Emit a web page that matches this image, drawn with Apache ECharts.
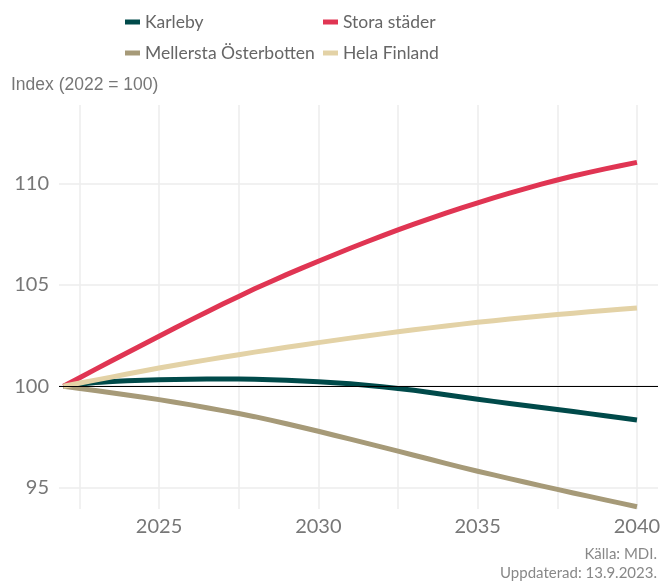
<!DOCTYPE html>
<html>
<head>
<meta charset="utf-8">
<script src="https://cdn.jsdelivr.net/npm/echarts@6/dist/echarts.min.js"></script>
<style>
  html, body { margin: 0; padding: 0; background: #fff; }
  #chart { width: 672px; height: 583px; }
</style>
</head>
<body>
<div id="chart"></div>
<script>
/*data*/
var years = [2022, 2023, 2024, 2025, 2026, 2027, 2028, 2029, 2030, 2031,
             2032, 2033, 2034, 2035, 2036, 2037, 2038, 2039, 2040];
var karleby = [100, 100.18, 100.27, 100.32, 100.35, 100.36, 100.34, 100.3, 100.22, 100.12,
               99.98, 99.8, 99.58, 99.36, 99.15, 98.95, 98.75, 98.55, 98.34];
var storaStader = [100, 100.83, 101.65, 102.46, 103.27, 104.05, 104.8, 105.5, 106.16, 106.8,
                   107.41, 107.99, 108.53, 109.04, 109.52, 109.96, 110.36, 110.71, 111.03];
var mellerstaOsterbotten = [100, 99.79, 99.57, 99.34, 99.08, 98.8, 98.5, 98.15, 97.78, 97.39,
                            97.0, 96.6, 96.2, 95.81, 95.45, 95.09, 94.74, 94.4, 94.06];
var helaFinland = [100, 100.3, 100.6, 100.9, 101.17, 101.43, 101.68, 101.92, 102.15, 102.37,
                   102.58, 102.78, 102.97, 103.15, 103.31, 103.46, 103.6, 103.73, 103.86];
var xTickLabels = [2025, 2030, 2035, 2040];
var xGridValues = [2022.5, 2025, 2027.5, 2030, 2032.5, 2035, 2037.5, 2040];
var yTickLabels = [95, 100, 105, 110];

function pairs(values) {
    return years.map(function (y, i) { return [y, values[i]]; });
}

var myChart = echarts.init(document.getElementById('chart'));

function lineSeries(name, values, color) {
    return {
        name: name,
        type: 'line',
        data: pairs(values),
        showSymbol: false,
        smooth: 0.2,
        lineStyle: { color: color, width: 5, cap: 'butt', join: 'round' },
        itemStyle: { color: color },
        emphasis: { disabled: true }
    };
}

var legendText = { color: '#666', fontSize: 17.5, fontFamily: 'Lato' };

var option = {
    backgroundColor: '#fff',
    animation: false,
    legend: [{
        data: ['Karleby', 'Mellersta Österbotten'],
        orient: 'vertical',
        left: 120,
        top: 8,
        itemWidth: 15,
        itemHeight: 5,
        itemGap: 13,
        icon: 'rect',
        textStyle: legendText
    }, {
        data: ['Stora städer', 'Hela Finland'],
        orient: 'vertical',
        left: 318,
        top: 8,
        itemWidth: 15,
        itemHeight: 5,
        itemGap: 13,
        icon: 'rect',
        textStyle: legendText
    }],
    graphic: [{
        type: 'text',
        left: 11,
        top: 76,
        style: { text: 'Index (2022 = 100)', fill: '#777', fontSize: 17.5, fontFamily: 'Liberation Sans' }
    }, {
        type: 'text',
        right: 15,
        top: 547,
        style: { text: 'Källa: MDI.', fill: '#888', fontSize: 15, fontFamily: 'Lato' }
    }, {
        type: 'text',
        right: 15,
        top: 566,
        style: { text: 'Uppdaterad: 13.9.2023.', fill: '#888', fontSize: 15, fontFamily: 'Lato' }
    }],
    grid: {
        left: 59,
        right: 14,
        top: 105,
        bottom: 74
    },
    xAxis: {
        type: 'value',
        min: 2021.86,
        max: 2040.66,
        axisLine: { show: false },
        axisTick: { show: false, customValues: xGridValues },
        axisLabel: {
            customValues: xTickLabels,
            formatter: function (v) { return String(v); },
            color: '#777', fontSize: 20, fontFamily: 'Lato', margin: 8
        },
        splitLine: { show: true, lineStyle: { color: '#ececec', width: 1.5 } }
    },
    yAxis: {
        type: 'value',
        min: 93.95,
        max: 113.86,
        axisLine: { show: false },
        axisTick: { show: false, customValues: yTickLabels },
        axisLabel: {
            customValues: yTickLabels,
            color: '#777', fontSize: 20, fontFamily: 'Lato', margin: 10
        },
        splitLine: { show: true, lineStyle: { color: '#ececec', width: 1.5 } }
    },
    series: [
        lineSeries('Karleby', karleby, '#004a4a'),
        lineSeries('Stora städer', storaStader, '#e03553'),
        lineSeries('Mellersta Österbotten', mellerstaOsterbotten, '#a69a78'),
        lineSeries('Hela Finland', helaFinland, '#e3d2a6'),
        {
            type: 'line',
            data: [],
            z: 5,
            markLine: {
                silent: true,
                symbol: 'none',
                label: { show: false },
                lineStyle: { color: '#000', width: 1.2, type: 'solid' },
                data: [{ yAxis: 100 }]
            }
        }
    ]
};

myChart.setOption(option);
</script>
</body>
</html>
